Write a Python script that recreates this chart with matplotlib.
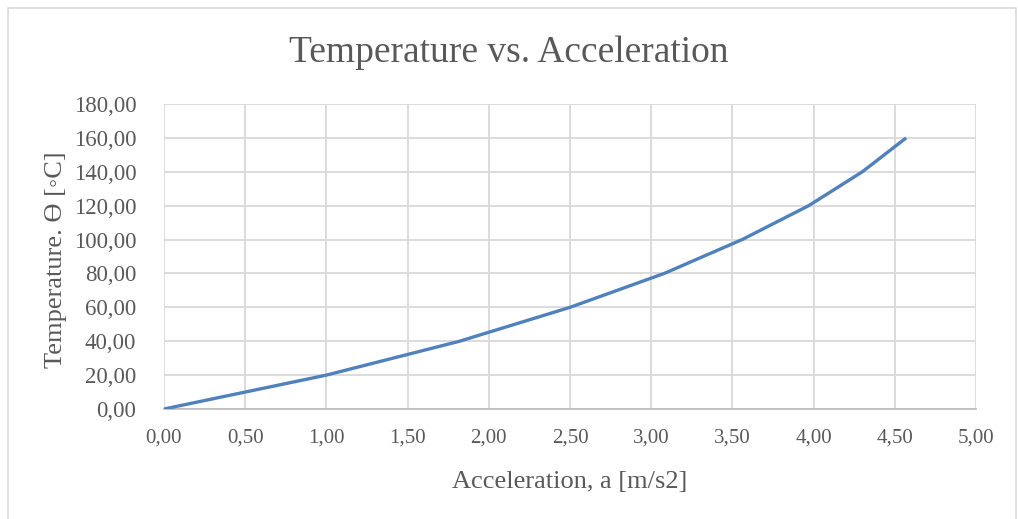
import matplotlib.pyplot as plt
from matplotlib.patches import Rectangle
from matplotlib.ticker import FuncFormatter
import numpy as np

# acceleration [m/s2] and temperature [C] readings
acceleration = [0.0, 1.0, 1.82, 2.5, 3.08, 3.56, 3.97, 4.3, 4.57]
temperature = [0, 20, 40, 60, 80, 100, 120, 140, 160]

x_ticks = np.arange(0, 5.01, 0.5)
y_ticks = np.arange(0, 181, 20)

text_col = '#595959'
grid_col = '#d9d9d9'

plt.rcParams['font.family'] = ['Liberation Serif', 'DejaVu Serif']

fig = plt.figure(figsize=(10.18, 5.19), dpi=100)
ax = fig.add_axes([164 / 1018, 1 - 409 / 519, (976 - 164) / 1018, (409 - 104) / 519])

# light frame round the whole chart
fig.patches.append(Rectangle((8 / 1018, -0.01), 1008 / 1018, 1 - 8 / 519 + 0.01,
                             transform=fig.transFigure, fill=False,
                             edgecolor='#d9d9d9', linewidth=1.2))

ax.plot(acceleration, temperature, color='#4f81bd', linewidth=2.4,
        solid_capstyle='butt', zorder=3)

ax.set_xlim(0, 5)
ax.set_ylim(0, 180)
ax.set_xticks(x_ticks)
ax.set_yticks(y_ticks)
comma = FuncFormatter(lambda v, p: f'{v:.2f}'.replace('.', ','))
ax.xaxis.set_major_formatter(comma)
ax.yaxis.set_major_formatter(comma)

ax.grid(True, color=grid_col, linewidth=1.3)
ax.set_axisbelow(True)
for s in ['top', 'right', 'left']:
    ax.spines[s].set_visible(False)
ax.spines['bottom'].set_color('#bfbfbf')
ax.spines['bottom'].set_linewidth(1.3)
ax.tick_params(length=0, colors=text_col)
ax.tick_params(axis='x', labelsize=15, pad=14)
ax.tick_params(axis='y', labelsize=16.5, pad=20)

ax.set_xlabel('Acceleration, a [m/s2]', fontsize=19, color=text_col, labelpad=17)
ax.set_ylabel('Temperature. ϴ [◦C]', fontsize=19, color=text_col)
ax.yaxis.set_label_coords(67 / 1018, 0.5, transform=fig.transFigure)
fig.text(0.5, 1 - 53 / 519, 'Temperature vs. Acceleration', ha='center', va='center',
         fontsize=27, color=text_col)

plt.savefig('out.png', dpi=100)
